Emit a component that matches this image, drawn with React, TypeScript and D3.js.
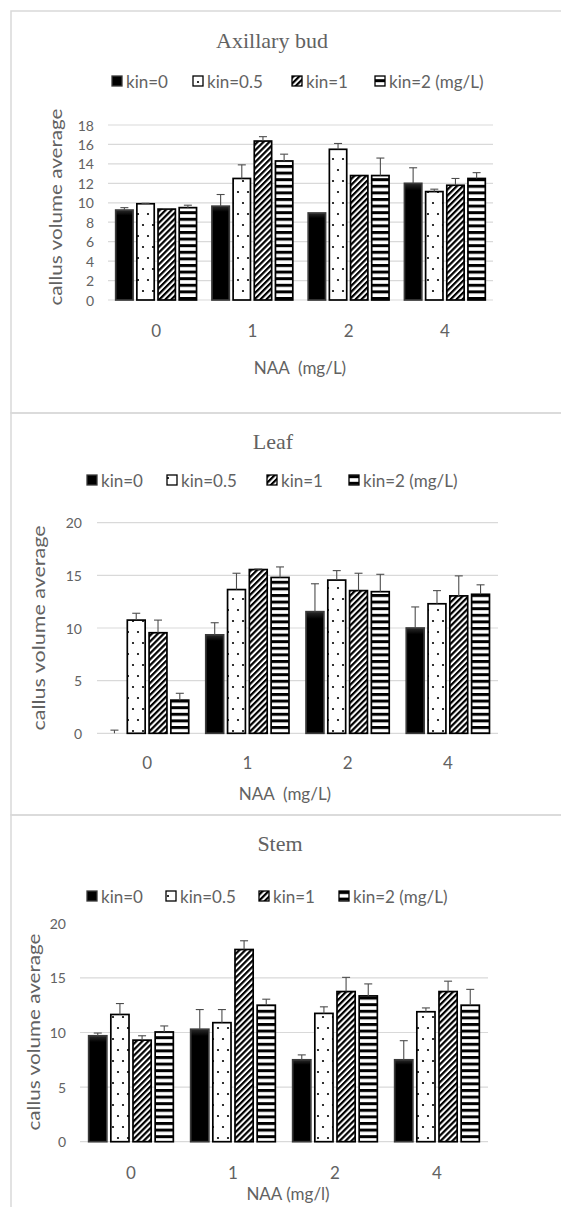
import React from 'react';
import * as d3 from 'd3';

// ---------- DATA ----------
const categories = ['0', '1', '2', '4'];
const seriesNames = ['kin=0', 'kin=0.5', 'kin=1', 'kin=2'];

// rows = series (kin=0, 0.5, 1, 2), columns = NAA categories
const axillaryMeans = [
  [9.25, 9.65, 8.95, 12.0],
  [9.9, 12.5, 15.5, 11.15],
  [9.35, 16.35, 12.8, 11.8],
  [9.5, 14.3, 12.8, 12.5],
];
const axillaryErrors = [
  [0.25, 1.2, 0, 1.6],
  [0.05, 1.4, 0.6, 0.25],
  [0.05, 0.45, 0, 0.7],
  [0.25, 0.7, 1.8, 0.6],
];

const leafMeans = [
  [0, 9.35, 11.55, 10.0],
  [10.75, 13.65, 14.55, 12.3],
  [9.55, 15.55, 13.55, 13.05],
  [3.15, 14.8, 13.45, 13.2],
];
const leafErrors = [
  [0.3, 1.15, 2.65, 2.0],
  [0.65, 1.55, 0.9, 1.25],
  [1.2, 0.05, 1.65, 1.9],
  [0.65, 1.0, 1.65, 0.9],
];

const stemMeans = [
  [9.7, 10.3, 7.5, 7.5],
  [11.65, 10.9, 11.75, 11.9],
  [9.3, 17.6, 13.75, 13.75],
  [10.05, 12.5, 13.35, 12.5],
];
const stemErrors = [
  [0.25, 1.8, 0.45, 1.75],
  [1.0, 1.2, 0.6, 0.35],
  [0.4, 0.8, 1.3, 0.95],
  [0.55, 0.55, 1.1, 1.45],
];

const axillaryTicks = [0, 2, 4, 6, 8, 10, 12, 14, 16, 18];
const leafTicks = [0, 5, 10, 15, 20];
const stemTicks = [0, 5, 10, 15, 20];

// ---------- STYLE ----------
const TEXT = '#626262';
const GRID = '#d9d9d9';
const SANS = 'Lato, Carlito, "Open Sans", sans-serif';
const SERIF = '"Liberation Serif", "Times New Roman", serif';
const fills = ['url(#blackbar)', 'url(#dots)', 'url(#diag)', 'url(#hstripe)'];
const strokes = ['#3a3a3a', '#000', '#000', '#000'];

type PanelProps = {
  title: string;
  frameTop: number;
  frameBottom: number;
  titleX: number;
  titleY: number;
  legendY: number;
  legendX: number[];
  x0: number;
  x1: number;
  yZero: number;
  yTop: number;
  ticks: number[];
  tickRight: number;
  catY: number;
  xTitle: string;
  xTitleX: number;
  xTitleY: number;
  yTitleX: number;
  yTitleY: number;
  yTitleLen: number;
  means: number[][];
  errors: number[][];
  topGrid: boolean;
  pad: number;
};

function Panel(p: PanelProps) {
  const yMax = p.ticks[p.ticks.length - 1];
  const y = d3.scaleLinear().domain([0, yMax]).range([p.yZero, p.yTop]);
  const xBand = d3
    .scaleBand<string>()
    .domain(categories)
    .range([p.x0, p.x1])
    .paddingInner(p.pad)
    .paddingOuter(p.pad / 2);
  const xSer = d3
    .scaleBand<string>()
    .domain(seriesNames)
    .range([0, xBand.bandwidth()])
    .paddingInner(0.18)
    .paddingOuter(0);
  const bw = xSer.bandwidth();

  return (
    <g>
      <rect
        x={11}
        y={p.frameTop}
        width={620}
        height={p.frameBottom - p.frameTop}
        fill="none"
        stroke={GRID}
        strokeWidth={1.5}
      />
      <text
        x={p.titleX}
        y={p.titleY}
        textAnchor="middle"
        fontFamily={SERIF}
        fontSize={22}
        fill={TEXT}
      >
        {p.title}
      </text>
      {/* legend */}
      {seriesNames.map((s, i) => (
        <g key={s}>
          <rect
            x={p.legendX[i]}
            y={p.legendY - 5}
            width={10}
            height={10}
            fill={i === 0 ? '#000' : fills[i]}
            stroke={strokes[i]}
            strokeWidth={1.3}
          />
          <text
            x={p.legendX[i] + 14}
            y={p.legendY}
            dominantBaseline="central"
            fontFamily={SANS}
            fontSize={17}
            fill={TEXT}
          >
            {i === 3 ? s + '  (mg/L)' : s}
          </text>
        </g>
      ))}
      {/* gridlines */}
      {p.ticks.map((t) =>
        t === yMax && !p.topGrid ? null : (
          <line
            key={'g' + t}
            x1={p.x0}
            x2={p.x1}
            y1={y(t)}
            y2={y(t)}
            stroke={GRID}
            strokeWidth={1.2}
          />
        )
      )}
      {p.ticks.map((t) => (
        <text
          key={'t' + t}
          x={p.tickRight}
          y={y(t)}
          textAnchor="end"
          dominantBaseline="central"
          fontFamily={SANS}
          fontSize={14}
          fill={TEXT}
        >
          {t}
        </text>
      ))}
      {/* bars */}
      {p.means.map((row, si) =>
        row.map((v, ci) =>
          v > 0 ? (
            <rect
              key={'b' + si + '-' + ci}
              x={(xBand(categories[ci]) as number) + (xSer(seriesNames[si]) as number)}
              y={y(v)}
              width={bw}
              height={p.yZero - y(v)}
              fill={fills[si]}
              stroke={strokes[si]}
              strokeWidth={1.7}
            />
          ) : null
        )
      )}
      {/* error bars */}
      {p.means.map((row, si) =>
        row.map((v, ci) => {
          const e = p.errors[si][ci];
          if (e <= 0) return null;
          const cx = (xBand(categories[ci]) as number) + (xSer(seriesNames[si]) as number) + bw / 2;
          return (
            <g key={'e' + si + '-' + ci} stroke="#4d4d4d" strokeWidth={1.1}>
              <line x1={cx} x2={cx} y1={y(v)} y2={y(v + e)} />
              <line x1={cx - 4} x2={cx + 4} y1={y(v + e)} y2={y(v + e)} />
            </g>
          );
        })
      )}
      {/* category labels */}
      {categories.map((c) => (
        <text
          key={'c' + c}
          x={(xBand(c) as number) + xBand.bandwidth() / 2}
          y={p.catY}
          textAnchor="middle"
          dominantBaseline="central"
          fontFamily={SANS}
          fontSize={17}
          fill={TEXT}
        >
          {c}
        </text>
      ))}
      <text
        x={p.xTitleX}
        y={p.xTitleY}
        textAnchor="middle"
        dominantBaseline="central"
        fontFamily={SANS}
        fontSize={17}
        fill={TEXT}
        style={{ whiteSpace: 'pre' }}
      >
        {p.xTitle}
      </text>
      <text
        transform={`translate(${p.yTitleX},${p.yTitleY}) rotate(-90)`}
        textAnchor="middle"
        dominantBaseline="central"
        fontFamily={SANS}
        fontSize={17}
        fill={TEXT}
        textLength={p.yTitleLen}
        lengthAdjust="spacingAndGlyphs"
      >
        callus volume average
      </text>
    </g>
  );
}

export default function App() {
  return (
    <svg
      width={561}
      height={1207}
      style={{ position: 'absolute', left: 0, top: 0, background: '#fff' }}
    >
      <defs>
        <linearGradient id="blackbar" x1="0" y1="0" x2="0" y2="1">
          <stop offset="0" stopColor="#2a2a2a" />
          <stop offset="0.06" stopColor="#000" />
          <stop offset="1" stopColor="#000" />
        </linearGradient>
        <pattern id="dots" width={10} height={22} patternUnits="userSpaceOnUse">
          <rect width={10} height={22} fill="#fff" />
          <circle cx={3} cy={5} r={1.1} fill="#000" />
          <circle cx={8} cy={16} r={1.1} fill="#000" />
        </pattern>
        <pattern
          id="diag"
          width={4.2}
          height={4.2}
          patternUnits="userSpaceOnUse"
          patternTransform="rotate(45)"
        >
          <rect width={4.2} height={4.2} fill="#fff" />
          <rect width={2.2} height={4.2} fill="#000" />
        </pattern>
        <pattern id="hstripe" width={6} height={6.6} patternUnits="userSpaceOnUse">
          <rect width={6} height={6.6} fill="#fff" />
          <rect y={0} width={6} height={3} fill="#000" />
        </pattern>
      </defs>
      <Panel
        title="Axillary bud"
        frameTop={11}
        frameBottom={413}
        titleX={272}
        titleY={48}
        legendY={81}
        legendX={[112, 193, 292, 375]}
        x0={108}
        x1={493}
        yZero={300}
        yTop={125}
        ticks={axillaryTicks}
        tickRight={94}
        catY={330}
        xTitle="NAA  (mg/L)"
        xTitleX={300}
        xTitleY={367}
        yTitleX={55}
        yTitleY={207}
        yTitleLen={197}
        means={axillaryMeans}
        errors={axillaryErrors}
        topGrid={true}
        pad={0.16}
      />
      <Panel
        title="Leaf"
        frameTop={413}
        frameBottom={815}
        titleX={273}
        titleY={449}
        legendY={480}
        legendX={[87, 167, 267, 349]}
        x0={97}
        x1={498}
        yZero={733.3}
        yTop={522.7}
        ticks={leafTicks}
        tickRight={82}
        catY={762}
        xTitle="NAA  (mg/L)"
        xTitleX={285}
        xTitleY={793}
        yTitleX={38}
        yTitleY={628}
        yTitleLen={205}
        means={leafMeans}
        errors={leafErrors}
        topGrid={true}
        pad={0.17}
      />
      <Panel
        title="Stem"
        frameTop={815}
        frameBottom={1300}
        titleX={280}
        titleY={851}
        legendY={896}
        legendX={[87, 166, 259, 339]}
        x0={80}
        x1={488}
        yZero={1141.7}
        yTop={923.3}
        ticks={stemTicks}
        tickRight={66}
        catY={1172}
        xTitle="NAA (mg/l)"
        xTitleX={288}
        xTitleY={1193}
        yTitleX={33}
        yTitleY={1032}
        yTitleLen={197}
        means={stemMeans}
        errors={stemErrors}
        topGrid={false}
        pad={0.17}
      />
    </svg>
  );
}
